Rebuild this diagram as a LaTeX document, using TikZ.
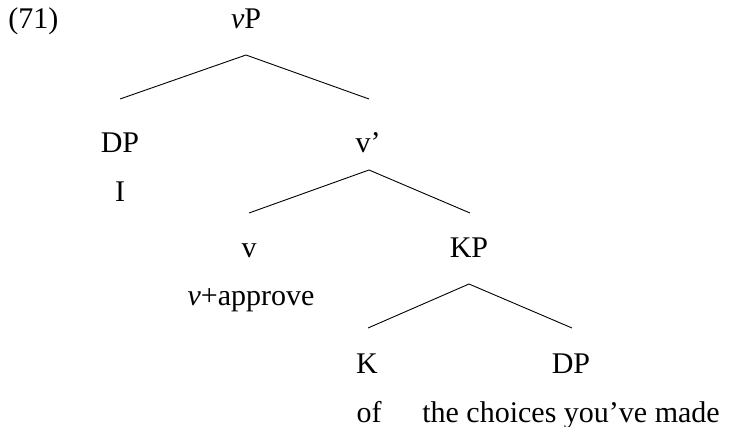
\documentclass[tikz,border=0pt]{standalone}
\usepackage{fontspec}
\setmainfont{Liberation Serif}
\begin{document}
\begin{tikzpicture}[x=0.5pt,y=-0.5pt,
  lbl/.style={inner sep=0pt,anchor=base,font=\fontsize{15}{18}\selectfont},
  edge/.style={draw=black,line width=0.45pt}]
\useasboundingbox (0,0) rectangle (755,427);
\node[lbl,anchor=base west] (ex) at (8,29) {(71)};
\node[lbl] (vP) at (246,29) {\textit{v}P};
\node[lbl] (DP1) at (120,153) {DP};
\node[lbl] (I) at (120,202) {I};
\node[lbl] (vbar) at (368,153) {v’};
\node[lbl] (v) at (249,258) {v};
\node[lbl] (vapp) at (251,306) {\textit{v}+approve};
\node[lbl] (KP) at (469,258) {KP};
\node[lbl] (K) at (367,373) {K};
\node[lbl] (of) at (369,422) {of};
\node[lbl] (DP2) at (571,373) {DP};
\node[lbl] (choices) at (571,422) {the choices you’ve made};
% connectors
\coordinate (a1) at (246,55);
\coordinate (a1l) at (120,99);
\coordinate (a1r) at (369,99);
\coordinate (a2) at (369,170);
\coordinate (a2l) at (249,213);
\coordinate (a2r) at (470,213);
\coordinate (a3) at (469,284);
\coordinate (a3l) at (368,328);
\coordinate (a3r) at (572,328);
\draw[edge] (a1l) -- (a1) -- (a1r);
\draw[edge] (a2l) -- (a2) -- (a2r);
\draw[edge] (a3l) -- (a3) -- (a3r);
\end{tikzpicture}
\end{document}
